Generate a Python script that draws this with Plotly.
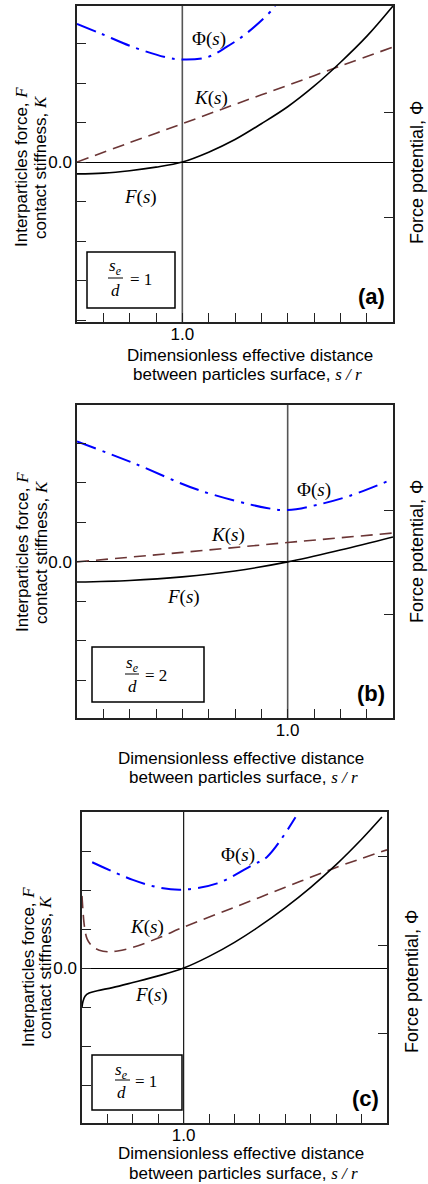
import plotly.graph_objects as go

W, H = 428, 1184

# ---------------- data ----------------
# Panel (a)
a_F_x = [0, 0.25, 0.5, 0.75, 1.0, 1.25, 1.5, 1.75, 2.0, 2.25, 2.5, 2.75, 3.0]
a_F_y = [-0.30, -0.28, -0.22, -0.13, 0.0, 0.25, 0.57, 0.97, 1.40, 1.92, 2.52, 3.18, 3.95]
a_K_x = [0, 0.5, 1.0, 1.5, 2.0, 2.5, 3.0]
a_K_y = [0, 0.49, 0.97, 1.46, 1.94, 2.43, 2.91]
a_P_x = [0, 0.22, 0.53, 0.85, 1.0, 1.23, 1.42, 1.61, 1.85, 1.88]
a_P_y = [1.84, 1.75, 1.62, 1.52, 1.50, 1.52, 1.62, 1.75, 1.97, 2.01]

# Panel (b)
b_F_x = [0, 0.25, 0.5, 0.75, 1.0, 1.25, 1.5]
b_F_y = [-0.51, -0.47, -0.38, -0.23, 0.0, 0.30, 0.63]
b_K_x = [0, 0.5, 1.0, 1.5]
b_K_y = [0, 0.24, 0.49, 0.73]
b_P_x = [0, 0.27, 0.58, 0.90, 1.0, 1.14, 1.30, 1.49]
b_P_y = [1.66, 1.45, 1.19, 1.02, 1.0, 1.05, 1.14, 1.29]

# Panel (c)
c_F_x = [0.0, 0.01, 0.03, 0.07, 0.15, 0.3, 0.5, 0.75, 1.0, 1.25, 1.5, 1.75, 2.0, 2.25, 2.5, 2.75, 2.95]
c_F_y = [-1.0, -0.85, -0.72, -0.64, -0.58, -0.50, -0.37, -0.20, 0.0, 0.30, 0.66, 1.08, 1.55, 2.07, 2.65, 3.30, 3.87]
c_K_x = [0.0, 0.01, 0.025, 0.05, 0.1, 0.17, 0.25, 0.35, 0.5, 0.75, 1.0, 1.5, 2.0, 2.5, 3.0]
c_K_y = [1.85, 1.45, 1.05, 0.75, 0.56, 0.46, 0.42, 0.44, 0.53, 0.77, 1.05, 1.56, 2.07, 2.58, 3.03]
c_P_x = [0.10, 0.5, 0.77, 1.0, 1.33, 1.68, 1.82, 2.10]
c_P_y = [1.94, 1.74, 1.65, 1.63, 1.70, 1.91, 2.0, 2.45]

REF_X = 1.0
X_MINOR_STEP = [0.25, 0.125, 0.25]
Y_MINOR_STEP = 1
Y_TICKS_R_AB = [0, 1]
Y_TICKS_R_C = [0, 1, 2]
RATIOS = ["1", "2", "1"]
PANEL_TAGS = ["(a)", "(b)", "(c)"]

SANS = "Liberation Sans, Arial, sans-serif"
SERIF = "Liberation Serif, Times New Roman, serif"
F_COL, K_COL, P_COL = "black", "#6b3535", "#0000ff"


def px(xp):
    return xp / W


def py(yp):
    return 1 - yp / H


fig = go.Figure()

panels = [
    dict(F=(a_F_x, a_F_y), K=(a_K_x, a_K_y), P=(a_P_x, a_P_y)),
    dict(F=(b_F_x, b_F_y), K=(b_K_x, b_K_y), P=(b_P_x, b_P_y)),
    dict(F=(c_F_x, c_F_y), K=(c_K_x, c_K_y), P=(c_P_x, c_P_y)),
]

for i, p in enumerate(panels):
    xa = "x" if i == 0 else f"x{i+1}"
    yl = "y" if i == 0 else f"y{i+1}"
    yr = f"y{i+4}"
    fig.add_trace(go.Scatter(x=p["K"][0], y=p["K"][1], xaxis=xa, yaxis=yl, mode="lines",
                             line=dict(color=K_COL, width=1.6, dash="12px,7px", shape="spline"),
                             showlegend=False, hoverinfo="skip"))
    fig.add_trace(go.Scatter(x=p["F"][0], y=p["F"][1], xaxis=xa, yaxis=yl, mode="lines",
                             line=dict(color=F_COL, width=1.6, shape="spline"),
                             showlegend=False, hoverinfo="skip"))
    fig.add_trace(go.Scatter(x=p["P"][0], y=p["P"][1], xaxis=xa, yaxis=yr, mode="lines",
                             line=dict(color=P_COL, width=2, dash="20px,7px,3px,7px", shape="spline"),
                             showlegend=False, hoverinfo="skip"))

# geometry in pixels
geo = [
    dict(x0=77, x1=393, y0=6, y1=322, xr=[0, 3], yl=[-4.05, 3.95], yr=[-1.0, 2.01], yrt=Y_TICKS_R_AB),
    dict(x0=77, x1=393, y0=405, y1=718, xr=[0, 1.5], yl=[-3.95, 3.97], yr=[-1.0, 2.01], yrt=Y_TICKS_R_AB),
    dict(x0=82, x1=387, y0=812, y1=1123, xr=[0, 3], yl=[-3.97, 4.0], yr=[-1.02, 2.51], yrt=Y_TICKS_R_C),
]

AX_COL = "#222"
tickfont = dict(family=SANS, size=17, color="black")
layout = dict(width=W, height=H, margin=dict(l=0, r=0, t=0, b=0),
              paper_bgcolor="white", plot_bgcolor="white", showlegend=False)

for i, g in enumerate(geo):
    xk = "xaxis" if i == 0 else f"xaxis{i+1}"
    ylk = "yaxis" if i == 0 else f"yaxis{i+1}"
    yrk = f"yaxis{i+4}"
    xname = "x" if i == 0 else f"x{i+1}"
    yname = "y" if i == 0 else f"y{i+1}"
    xdom = [px(g["x0"]), px(g["x1"])]
    ydom = [py(g["y1"]), py(g["y0"])]
    layout[xk] = dict(domain=xdom, range=g["xr"], anchor=yname, showgrid=False, zeroline=False,
                      showline=True, linecolor=AX_COL, linewidth=1.5, mirror=True,
                      ticks="inside", ticklen=9, tickwidth=1.2, tickcolor=AX_COL,
                      tickmode="array", tickvals=[REF_X], ticktext=["1.0"],
                      ticklabelstandoff=-4,
                      minor=dict(ticks="inside", ticklen=9, tickwidth=1.2, tickcolor=AX_COL,
                                 tick0=0, dtick=X_MINOR_STEP[i], showgrid=False),
                      tickfont=tickfont, fixedrange=True)
    layout[ylk] = dict(domain=ydom, range=g["yl"], anchor=xname, showgrid=False,
                       zeroline=True, zerolinecolor="black", zerolinewidth=1,
                       showline=True, linecolor=AX_COL, linewidth=1.5, mirror=False,
                       ticks="inside", ticklen=9, tickwidth=1.2, tickcolor=AX_COL,
                       tickmode="array", tickvals=[0], ticktext=["0.0"],
                       minor=dict(ticks="inside", ticklen=9, tickwidth=1.2, tickcolor=AX_COL,
                                  tick0=0, dtick=Y_MINOR_STEP, showgrid=False),
                       tickfont=tickfont, fixedrange=True)
    layout[yrk] = dict(domain=ydom, range=g["yr"], anchor=xname, overlaying=yname, side="right",
                       showgrid=False, zeroline=False, showline=True, linecolor=AX_COL,
                       linewidth=1.5, ticks="inside", ticklen=9, tickwidth=1.2, tickcolor=AX_COL,
                       tickmode="array", tickvals=g["yrt"], showticklabels=False,
                       fixedrange=True)

fig.update_layout(**layout)

shapes = []
annotations = []

# vertical reference line at x = 1.0
for i in range(3):
    xname = "x" if i == 0 else f"x{i+1}"
    yname = "y" if i == 0 else f"y{i+1}"
    shapes.append(dict(type="line", xref=xname, yref=f"{yname} domain", x0=REF_X, x1=REF_X, y0=0, y1=1,
                       line=dict(color="#555" if i < 2 else "black", width=1.6 if i < 2 else 1.1),
                       layer="below"))


def ann(x, y, text, size=17, family=SANS, angle=0, xanchor="center", yanchor="middle", color="black"):
    annotations.append(dict(x=px(x), y=py(y), xref="paper", yref="paper", text=text, showarrow=False,
                            font=dict(family=family, size=size, color=color), textangle=angle,
                            xanchor=xanchor, yanchor=yanchor))


serif_i = lambda t: f'<span style="font-family:Liberation Serif"><i>{t}</i></span>'

# curve labels
lab = [
    dict(P=(209, 39), K=(211, 98), F=(140, 197)),
    dict(P=(314, 490), K=(228, 535), F=(183, 597)),
    dict(P=(238, 855), K=(147, 927), F=(151, 995)),
]
for L in lab:
    ann(*L["P"], "Φ(<i>s</i>)", size=19, family=SERIF)
    ann(*L["K"], "<i>K</i>(<i>s</i>)", size=19, family=SERIF)
    ann(*L["F"], "<i>F</i>(<i>s</i>)", size=19, family=SERIF)

# panel tags
tags_pos = [(387, 297), (387, 693), (381, 1098)]
for t, (x, y) in zip(PANEL_TAGS, tags_pos):
    ann(x, y, f"<b>{t}</b>", size=22, xanchor="right")

# ratio boxes
boxes = [
    dict(b=(87, 252, 175, 308), s=(115, 267), bar=(108, 123, 278), d=(115, 290), eq=(128, 279)),
    dict(b=(92, 647, 204, 702), s=(132, 664), bar=(125, 139, 674), d=(132, 686), eq=(143, 675)),
    dict(b=(92, 1055, 182, 1110), s=(122, 1071), bar=(115, 130, 1080), d=(122, 1092), eq=(133, 1081)),
]
for B, r in zip(boxes, RATIOS):
    x0, y0, x1, y1 = B["b"]
    shapes.append(dict(type="rect", xref="paper", yref="paper", x0=px(x0), x1=px(x1), y0=py(y1), y1=py(y0),
                       line=dict(color="black", width=1.5), fillcolor="rgba(0,0,0,0)"))
    bx0, bx1, by = B["bar"]
    shapes.append(dict(type="line", xref="paper", yref="paper", x0=px(bx0), x1=px(bx1), y0=py(by), y1=py(by),
                       line=dict(color="black", width=1)))
    ann(*B["s"], "<i>s</i><sub><i>e</i></sub>", size=17, family=SERIF)
    ann(*B["d"], "<i>d</i>", size=17, family=SERIF)
    ann(*B["eq"], f"= {r}", size=17, family=SERIF, xanchor="left")

# axis titles
xt = [(250, 355, 248, 374), (241, 758, 244, 777), (241, 1153, 244, 1173)]
for (x1_, y1_, x2_, y2_) in xt:
    ann(x1_, y1_, "Dimensionless effective distance", size=17)
    ann(x2_, y2_, "between particles surface, " + serif_i("s / r"), size=17)

lt = [(22, 41, 167), (22, 41, 552), (28, 45, 967)]
for (xa, xb, yc) in lt:
    ann(xa, yc, "Interparticles force, " + serif_i("F"), size=17, angle=-90)
    ann(xb, yc, "contact stiffness, " + serif_i("K"), size=17, angle=-90)

rt = [(417, 173), (417, 552), (412, 982)]
for (x, y) in rt:
    ann(x, y, "Force potential, Φ", size=18, angle=-90)

fig.update_layout(shapes=shapes, annotations=annotations)
fig.write_html("out.html")
